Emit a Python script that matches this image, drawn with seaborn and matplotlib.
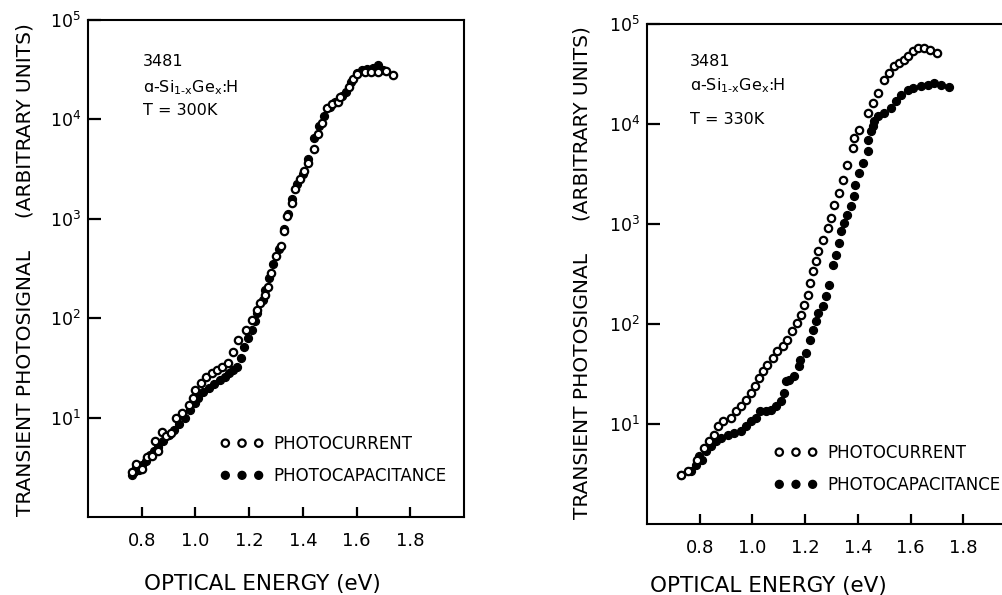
import numpy as np
import pandas as pd
import matplotlib
matplotlib.use("Agg")
import matplotlib.pyplot as plt
import seaborn as sns

# ---------------- data ----------------
# Left panel, T = 300 K : photon energy (eV) and log10 of transient photosignal
left_pc_E = [0.763, 0.78, 0.80, 0.82, 0.84, 0.85, 0.86, 0.875, 0.89, 0.91, 0.927, 0.95,
             0.975, 0.99, 1.00, 1.02, 1.04, 1.06, 1.08, 1.10, 1.12, 1.14, 1.16, 1.19,
             1.21, 1.23, 1.24, 1.26, 1.27, 1.28, 1.30, 1.32, 1.33, 1.34, 1.36, 1.37,
             1.39, 1.405, 1.42, 1.44, 1.455, 1.47, 1.49, 1.51, 1.53, 1.54, 1.57, 1.585,
             1.60, 1.63, 1.655, 1.68, 1.71, 1.735]
left_pc_log = [0.45, 0.53, 0.48, 0.60, 0.61, 0.76, 0.66, 0.86, 0.81, 0.85, 1.00, 1.05,
               1.13, 1.20, 1.28, 1.35, 1.41, 1.45, 1.48, 1.51, 1.55, 1.66, 1.78, 1.88,
               1.98, 2.08, 2.15, 2.23, 2.31, 2.45, 2.63, 2.73, 2.88, 3.03, 3.16, 3.30,
               3.40, 3.48, 3.56, 3.70, 3.85, 3.96, 4.11, 4.15, 4.18, 4.23, 4.33, 4.41,
               4.46, 4.48, 4.48, 4.48, 4.49, 4.45]
left_cap_E = [0.762, 0.77, 0.78, 0.79, 0.80, 0.815, 0.83, 0.845, 0.86, 0.88, 0.90, 0.92,
              0.94, 0.96, 0.98, 1.00, 1.01, 1.03, 1.05, 1.07, 1.09, 1.11, 1.125, 1.14,
              1.155, 1.17, 1.18, 1.195, 1.21, 1.22, 1.23, 1.25, 1.26, 1.275, 1.29, 1.31,
              1.33, 1.345, 1.36, 1.38, 1.40, 1.42, 1.44, 1.46, 1.48, 1.50, 1.52, 1.545,
              1.56, 1.58, 1.60, 1.62, 1.64, 1.66, 1.68, 1.70]
left_cap_log = [0.42, 0.45, 0.50, 0.47, 0.52, 0.56, 0.62, 0.66, 0.70, 0.76, 0.82, 0.88,
                0.94, 1.00, 1.08, 1.15, 1.20, 1.26, 1.30, 1.34, 1.38, 1.41, 1.45, 1.48,
                1.51, 1.60, 1.71, 1.80, 1.88, 1.97, 2.05, 2.18, 2.28, 2.40, 2.55, 2.70,
                2.90, 3.05, 3.20, 3.35, 3.45, 3.60, 3.81, 3.93, 4.03, 4.12, 4.18, 4.24,
                4.28, 4.38, 4.47, 4.50, 4.51, 4.52, 4.55, 4.50]

# Right panel, T = 330 K
right_pc_E = [0.728, 0.755, 0.79, 0.815, 0.835, 0.853, 0.87, 0.89, 0.918, 0.937, 0.955,
              0.975, 0.993, 1.01, 1.025, 1.04, 1.057, 1.077, 1.095, 1.115, 1.133, 1.152,
              1.17, 1.183, 1.195, 1.21, 1.22, 1.23, 1.24, 1.25, 1.267, 1.285, 1.297,
              1.31, 1.328, 1.343, 1.36, 1.38, 1.385, 1.403, 1.437, 1.457, 1.475, 1.50,
              1.518, 1.537, 1.555, 1.575, 1.59, 1.61, 1.63, 1.65, 1.675, 1.70]
right_pc_log = [0.49, 0.53, 0.64, 0.76, 0.83, 0.89, 0.98, 1.03, 1.06, 1.13, 1.18,
                1.24, 1.31, 1.38, 1.46, 1.53, 1.59, 1.66, 1.73, 1.78, 1.84, 1.93,
                2.01, 2.09, 2.19, 2.29, 2.41, 2.53, 2.63, 2.73, 2.84, 2.96, 3.06,
                3.19, 3.31, 3.44, 3.59, 3.76, 3.86, 3.94, 4.11, 4.21, 4.31, 4.44,
                4.51, 4.58, 4.61, 4.64, 4.68, 4.73, 4.76, 4.76, 4.74, 4.71]
right_cap_E = [0.728, 0.766, 0.785, 0.796, 0.81, 0.823, 0.842, 0.86, 0.88, 0.906, 0.93,
               0.955, 0.975, 0.993, 1.013, 1.03, 1.05, 1.07, 1.088, 1.107, 1.12, 1.126,
               1.138, 1.157, 1.175, 1.18, 1.205, 1.22, 1.23, 1.24, 1.25, 1.267, 1.278,
               1.29, 1.305, 1.316, 1.328, 1.335, 1.347, 1.36, 1.373, 1.385, 1.39, 1.403,
               1.42, 1.437, 1.44, 1.45, 1.457, 1.46, 1.475, 1.50, 1.525, 1.545, 1.563,
               1.59, 1.61, 1.64, 1.665, 1.69, 1.715, 1.745]
right_cap_log = [0.49, 0.53, 0.59, 0.68, 0.64, 0.73, 0.78, 0.83, 0.86, 0.89, 0.91,
                 0.93, 0.98, 1.03, 1.06, 1.13, 1.13, 1.14, 1.18, 1.23, 1.31, 1.43,
                 1.44, 1.48, 1.58, 1.64, 1.71, 1.84, 1.94, 2.03, 2.11, 2.18, 2.28,
                 2.39, 2.59, 2.69, 2.81, 2.93, 3.01, 3.09, 3.18, 3.28, 3.39, 3.51,
                 3.61, 3.73, 3.84, 3.93, 3.98, 4.03, 4.08, 4.11, 4.16, 4.23, 4.29,
                 4.34, 4.36, 4.38, 4.39, 4.41, 4.39, 4.37]

series_labels = ["PHOTOCURRENT", "PHOTOCAPACITANCE"]
x_ticks = [0.8, 1.0, 1.2, 1.4, 1.6, 1.8]
y_ticks = [1e1, 1e2, 1e3, 1e4, 1e5]
panel_notes = [["3481", "ɑ-Si$_{1\u2010x}$Ge$_{x}$:H", "T = 300K"],
               ["3481", "ɑ-Si$_{1\u2010x}$Ge$_{x}$:H", "T = 330K"]]
x_label = "OPTICAL ENERGY (eV)"
y_label = "TRANSIENT PHOTOSIGNAL     (ARBITRARY UNITS)"

# ---------------- style ----------------
sns.set_theme(style="ticks")
plt.rcParams["font.family"] = ["DejaVu Sans"]
plt.rcParams["mathtext.default"] = "regular"
plt.rcParams.update({
    "xtick.direction": "in", "ytick.direction": "in",
    "axes.linewidth": 1.5, "xtick.major.width": 1.6, "ytick.major.width": 1.6,
    "axes.edgecolor": "black", "text.color": "black",
    "xtick.color": "black", "ytick.color": "black", "axes.labelcolor": "black",
})

fig = plt.figure(figsize=(10.02, 5.95), dpi=100)
ax1 = fig.add_axes([88 / 1002, 78 / 595, 376 / 1002, 497 / 595])
ax2 = fig.add_axes([647 / 1002, 71 / 595, 369 / 1002, 500 / 595])

panels = [
    (ax1, left_pc_E, left_pc_log, left_cap_E, left_cap_log),
    (ax2, right_pc_E, right_pc_log, right_cap_E, right_cap_log),
]

note_pos = [(0.146, [0.917, 0.863, 0.817]), (0.117, [0.926, 0.876, 0.81])]
xlab_pos = [(0.463, -0.115), (0.328, -0.104)]
ylab_pos = [(-0.142, 0.497), (-0.150, 0.502)]
leg_pos = [(0.352, 0.165), (0.345, 0.16)]

for i, (ax, pcE, pcL, capE, capL) in enumerate(panels):
    df_pc = pd.DataFrame({"E": pcE, "S": 10 ** np.asarray(pcL)})
    df_cap = pd.DataFrame({"E": capE, "S": 10 ** np.asarray(capL)})
    sns.scatterplot(data=df_pc, x="E", y="S", ax=ax, marker="o", s=28,
                    facecolor="white", edgecolor="black", linewidth=1.6,
                    label=series_labels[0], zorder=3)
    sns.scatterplot(data=df_cap, x="E", y="S", ax=ax, marker="o", s=32,
                    facecolor="black", edgecolor="black", linewidth=1.0,
                    label=series_labels[1], zorder=2)
    ax.set_yscale("log")
    ax.set_xlim(0.6, 2.0)
    ax.set_ylim(1, 1e5)
    ax.set_xticks(x_ticks)
    ax.set_xticklabels([f"{t:.1f}" for t in x_ticks], fontsize=13)
    ax.set_yticks(y_ticks)
    ax.set_yticklabels([f"$10^{{{int(np.log10(t))}}}$" for t in y_ticks], fontsize=12.5)
    ax.minorticks_off()
    ax.tick_params(axis="x", length=7, pad=11)
    ax.tick_params(axis="y", length=9, pad=5)
    for sp in ["top", "right", "left", "bottom"]:
        ax.spines[sp].set_visible(True)
        ax.spines[sp].set_color("black")
    ax.set_xlabel(x_label, fontsize=15.5)
    ax.xaxis.set_label_coords(*xlab_pos[i])
    ax.set_ylabel(y_label, fontsize=14.5)
    ax.yaxis.set_label_coords(*ylab_pos[i])

    nx, nys = note_pos[i]
    for txt, ny in zip(panel_notes[i], nys):
        ax.text(nx, ny, txt, transform=ax.transAxes, fontsize=11.5,
                ha="left", va="center")

    leg = ax.legend(loc="upper left", bbox_to_anchor=leg_pos[i], frameon=False,
                    scatterpoints=3, scatteryoffsets=[0.5], fontsize=12,
                    handlelength=2.6, handletextpad=0.6, labelspacing=0.85,
                    borderpad=0, borderaxespad=0)

fig.savefig("out.png", dpi=100, facecolor="white")
